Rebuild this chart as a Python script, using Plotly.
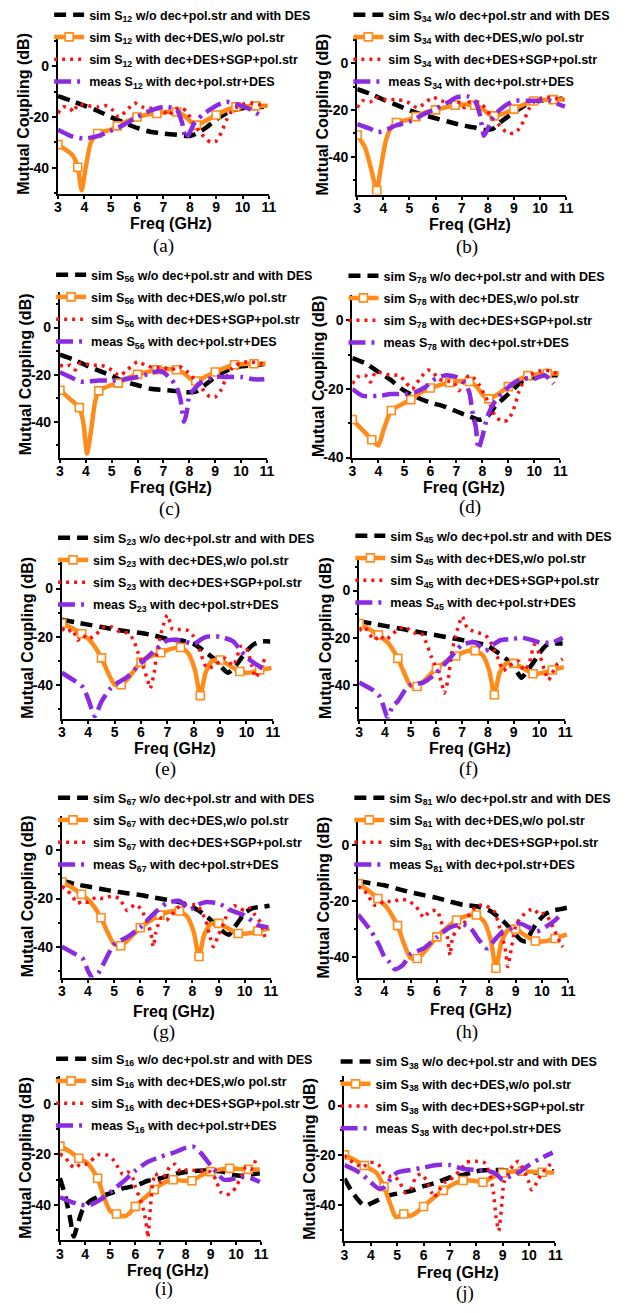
import plotly.graph_objects as go

W, H = 635, 1313

# ---------------------------------------------------------------- data
PANEL_TAGS = ["(a)", "(b)", "(c)", "(d)", "(e)", "(f)", "(g)", "(h)", "(i)", "(j)"]
PORT_PAIRS = ["12", "34", "56", "78", "23", "45", "67", "81", "16", "38"]
X_TICKS = [3, 4, 5, 6, 7, 8, 9, 10, 11]
Y_TICKS = [0, -20, -40]
Y_TICK_TEXT = ["0", "-20", "-40"]
ORANGE_MARKER_FREQS = [3, 3.75, 4.5, 5.25, 6, 6.75, 7.5, 8.25, 9, 9.75, 10.5]
Y_LIMITS = [(-50.2, 12.5), (-56.2, 12.3), (-55.2, 15.2), (-40, 7.5), (-54, 12.8),
            (-54.3, 13.9), (-52.8, 14.4), (-47.4, 9.6), (-54.1, 11), (-54.8, 12)]

# (freq GHz, coupling dB)
a_black = [(3,-11.7),(3.5,-13.5),(4,-15.5),(4.5,-17.5),(5,-20),(5.5,-22.2),(6,-24.3),(6.5,-25.8),(7,-26.5),(7.5,-27),(8,-27.5),(8.3,-26.3),(8.6,-24.3),(9,-21),(9.5,-17.8),(10,-16.5),(10.5,-16),(10.9,-16)]
a_orange = [(3,-30.9),(3.3,-33),(3.55,-35),(3.75,-39.8),(3.9,-49),(4.05,-40),(4.25,-30),(4.5,-26.5),(5,-25),(5.25,-23.5),(5.6,-21.8),(6,-20),(6.4,-19),(6.75,-18.6),(7.1,-18),(7.5,-18),(7.8,-19.5),(8.05,-22),(8.25,-23.2),(8.6,-21.5),(9,-19.2),(9.4,-17.2),(9.75,-16),(10.1,-15.7),(10.5,-15.6),(10.95,-15.5)]
a_red = [(3,-18.5),(3.2,-16),(3.45,-16.5),(3.6,-18),(3.75,-15),(4.1,-15.5),(4.5,-16),(4.8,-15.5),(5.1,-17.5),(5.3,-20),(5.6,-17.5),(5.9,-14.5),(6.2,-16),(6.5,-16.5),(6.8,-16.5),(7.0,-17.5),(7.2,-19.5),(7.4,-17),(7.7,-16.5),(7.9,-18),(8.1,-22),(8.35,-25.5),(8.6,-28.5),(8.8,-30),(9.0,-29.5),(9.2,-26),(9.4,-21),(9.6,-17.5),(9.8,-16),(10.0,-15),(10.3,-14.5),(10.6,-15),(10.9,-15.5)]
a_purple = [(3,-25),(3.5,-27.5),(4,-28.5),(4.5,-27.5),(5,-25.5),(5.5,-23),(6,-20),(6.5,-17.5),(7,-16),(7.5,-17),(7.7,-22),(7.85,-28.5),(8.0,-26),(8.2,-22),(8.5,-19),(9,-15.5),(9.4,-14),(9.8,-15),(10.2,-16.5),(10.7,-19.5)]

b_black = [(3,-11),(3.5,-13),(4,-15.5),(4.5,-17.8),(5,-20),(5.5,-22),(6,-23.5),(6.5,-25),(7,-26.5),(7.5,-27.5),(7.9,-28.5),(8.2,-28),(8.5,-25),(9,-21),(9.5,-17.5),(10,-16),(10.5,-15.5),(10.9,-15)]
b_orange = [(3,-30.7),(3.3,-36),(3.55,-46),(3.75,-54.5),(3.9,-45),(4.1,-33),(4.3,-27.5),(4.5,-25.3),(5,-24),(5.25,-22.8),(5.6,-21),(6,-19.9),(6.4,-18.8),(6.75,-17.9),(7.1,-17.6),(7.5,-17.9),(7.8,-19.5),(8.05,-21.8),(8.25,-22.5),(8.6,-21.5),(9,-19.6),(9.4,-17.5),(9.75,-16.1),(10.1,-15.7),(10.5,-15.5),(10.95,-15.5)]
b_red = [(3,-19),(3.2,-16),(3.5,-16.5),(3.7,-14.5),(4,-15.5),(4.5,-15.5),(4.8,-16),(5,-17),(5.3,-19),(5.6,-17),(5.9,-14.5),(6.2,-16),(6.5,-16.5),(7,-17),(7.1,-19),(7.3,-16.5),(7.6,-16.5),(7.9,-19),(8.2,-24),(8.5,-27),(8.7,-29.5),(9,-30),(9.2,-28),(9.4,-24),(9.6,-19),(9.8,-16),(10,-15),(10.3,-14.5),(10.6,-15),(10.9,-15.5)]
b_purple = [(3,-26),(3.5,-28),(3.8,-29.5),(4.2,-28),(4.5,-26.5),(5,-25),(5.5,-22),(6,-19.5),(6.5,-16.5),(6.8,-14.5),(7.2,-14),(7.5,-16),(7.7,-22),(7.85,-31),(8.0,-28),(8.2,-23),(8.5,-19.5),(9,-16),(9.5,-16),(10,-16),(10.4,-16),(10.7,-17.5),(10.95,-18.5)]

c_black = [(3,-11.5),(3.5,-13.5),(4,-16),(4.5,-18.3),(5,-20.5),(5.5,-23),(6,-24.5),(6.5,-26),(7,-26.5),(7.5,-27),(8,-27.5),(8.3,-27),(8.6,-24.5),(9,-21),(9.5,-18),(10,-16.5),(10.5,-16),(10.9,-15.5)]
c_orange = [(3,-26.6),(3.4,-30.5),(3.75,-34),(3.9,-40),(4.05,-53.5),(4.2,-44),(4.35,-32),(4.5,-26.9),(4.9,-24.8),(5.25,-23.6),(5.6,-21.5),(6,-19.9),(6.4,-18.8),(6.75,-17.9),(7.1,-17.6),(7.5,-17.9),(7.8,-19.5),(8.05,-21.8),(8.25,-22.7),(8.6,-21),(9,-18.9),(9.4,-17),(9.75,-15.8),(10.1,-15.5),(10.5,-15.4),(10.95,-15.3)]
c_red = [(3,-16),(3.2,-16.5),(3.4,-16),(3.6,-18),(3.8,-15),(4.2,-16),(4.6,-16),(5,-18),(5.3,-20.5),(5.6,-18),(6.0,-14.5),(6.3,-16),(6.6,-17),(7,-17),(7.3,-18),(7.6,-16.5),(7.9,-18.5),(8.2,-22),(8.5,-26),(8.8,-29.5),(9,-29.5),(9.2,-27),(9.4,-22),(9.6,-18),(9.8,-16),(10,-15),(10.3,-14.5),(10.6,-15),(10.9,-15.5)]
c_purple = [(3,-19),(3.5,-21.5),(3.8,-23),(4.5,-22.5),(5,-22.5),(5.5,-22),(6,-21),(6.5,-19.5),(6.8,-18.5),(7,-19),(7.3,-22),(7.5,-25),(7.65,-30),(7.8,-40),(7.9,-36),(8.0,-29),(8.2,-26),(8.5,-23),(9,-21),(9.5,-21),(10,-21),(10.5,-22),(10.9,-22)]

d_black = [(3,-11),(3.5,-12.5),(4,-15),(4.5,-17.5),(5,-20.5),(5.5,-22.5),(6,-24),(6.5,-25),(7,-26.5),(7.5,-28),(7.9,-29),(8.2,-28),(8.5,-25),(9,-21.5),(9.5,-18),(10,-16.5),(10.5,-16),(10.9,-16)]
d_orange = [(3,-28.9),(3.4,-32),(3.75,-34.8),(4.0,-36.5),(4.2,-32),(4.5,-26.3),(4.9,-24.5),(5.25,-23.1),(5.6,-21.2),(6,-19.7),(6.4,-18.8),(6.75,-18.1),(7.1,-17.7),(7.5,-17.8),(7.8,-19.5),(8.05,-22),(8.25,-22.9),(8.6,-21.5),(9,-19.3),(9.4,-17.3),(9.75,-16.1),(10.1,-15.7),(10.5,-15.5),(10.95,-15.5)]
d_red = [(3,-18.5),(3.2,-16.5),(3.5,-16),(3.7,-18),(3.9,-15),(4.2,-15.5),(4.5,-16),(4.8,-16),(5.0,-17.5),(5.3,-20),(5.6,-17),(5.9,-14.5),(6.1,-15),(6.3,-17),(6.5,-17.5),(6.9,-18),(7.1,-20.5),(7.3,-17.5),(7.5,-16),(7.7,-17),(7.9,-19),(8.1,-22),(8.3,-24.5),(8.5,-28),(8.8,-29.5),(9.0,-29),(9.2,-26),(9.4,-21),(9.6,-17.5),(9.8,-16),(10.1,-15),(10.4,-14.5),(10.7,-15),(10.9,-15.5)]
d_purple = [(3,-20),(3.4,-22),(4,-22),(4.5,-21.5),(5,-21.5),(5.4,-21),(5.8,-19.5),(6.2,-17),(6.6,-16),(7,-16.5),(7.3,-18),(7.5,-21),(7.65,-28),(7.75,-31),(7.85,-37.5),(8.0,-34),(8.2,-28),(8.5,-23.5),(9,-19.5),(9.5,-17),(10,-17),(10.4,-16),(10.75,-18.5)]

e_black = [(3,-13),(3.5,-14),(4,-15),(4.5,-16),(5,-17),(5.5,-17.8),(6,-18.5),(6.5,-19.5),(7,-21),(7.5,-21.5),(8,-23),(8.4,-26),(8.8,-29.5),(9,-32),(9.3,-35),(9.6,-32),(9.8,-29),(10,-26),(10.3,-23),(10.6,-22),(10.9,-22)]
e_orange = [(3,-14.4),(3.4,-16.5),(3.75,-18.8),(4.1,-22),(4.5,-28.8),(4.75,-35),(5.0,-40),(5.25,-40),(5.5,-37.5),(6,-30.5),(6.4,-28),(6.75,-26.7),(7.1,-25.2),(7.5,-24.5),(7.8,-27),(8.05,-34),(8.25,-44.5),(8.45,-35),(8.7,-30),(9,-29.7),(9.3,-31.5),(9.75,-34.5),(10.1,-35),(10.5,-33.8),(10.95,-33)]
e_red = [(3,-16.5),(3.2,-18),(3.4,-17),(3.6,-21.5),(3.8,-19.5),(4.0,-21),(4.3,-19),(4.6,-16),(4.9,-16),(5.2,-18),(5.5,-18.5),(5.7,-21),(5.9,-27),(6.1,-33),(6.25,-38),(6.35,-41.5),(6.5,-35),(6.6,-27),(6.8,-17),(7.0,-11),(7.2,-17),(7.5,-17),(7.8,-17.5),(8.0,-20),(8.2,-25),(8.5,-33),(8.8,-32),(9.0,-30),(9.2,-29),(9.5,-32),(9.8,-24),(10.0,-25),(10.2,-32),(10.35,-37),(10.5,-34),(10.7,-29)]
e_purple = [(3,-35),(3.5,-38.5),(3.8,-41),(4.0,-46),(4.25,-53),(4.5,-47),(4.8,-42),(5.0,-40),(5.5,-36.5),(6.0,-31),(6.5,-26),(7.0,-21.5),(7.5,-21.5),(8.0,-23),(8.3,-21),(8.5,-20),(9,-20),(9.5,-22),(9.8,-26),(10.0,-28.5),(10.3,-31),(10.6,-33)]

f_black = [(3,-13),(3.5,-14),(4,-15),(4.5,-16),(5,-17),(5.5,-18),(6,-19),(6.5,-20),(7,-21),(7.5,-22),(8,-23.5),(8.4,-26.5),(8.8,-30),(9.1,-34),(9.3,-37),(9.6,-33),(9.8,-30),(10,-26.5),(10.3,-23),(10.6,-22.5),(10.9,-22.5)]
f_orange = [(3,-14),(3.4,-16.5),(3.75,-18.9),(4.1,-22),(4.5,-28.8),(4.75,-35),(5.0,-40.5),(5.25,-40.7),(5.5,-38.5),(6,-33),(6.4,-30),(6.75,-27.8),(7.1,-26),(7.5,-25.5),(7.8,-27.5),(8.05,-34),(8.25,-44.2),(8.45,-35),(8.7,-31),(9,-30.9),(9.3,-32.5),(9.75,-35.3),(10.1,-35),(10.5,-33.7),(10.95,-32.5)]
f_red = [(3,-17),(3.2,-15.5),(3.4,-18.5),(3.6,-21),(3.8,-19),(4.0,-21),(4.2,-19.5),(4.5,-16.5),(4.8,-15.5),(5.1,-18),(5.4,-18),(5.6,-22),(5.8,-28),(6.0,-33),(6.2,-39),(6.3,-43.5),(6.45,-38),(6.6,-26),(6.8,-17),(7.0,-11),(7.2,-16),(7.5,-17.5),(7.8,-18.5),(8.0,-20),(8.2,-24),(8.4,-29),(8.6,-34),(8.8,-32),(9.0,-31),(9.2,-30),(9.4,-34),(9.6,-31),(9.8,-23),(10.0,-27),(10.2,-34),(10.35,-38),(10.5,-35),(10.7,-31),(10.9,-29)]
f_purple = [(3,-39),(3.5,-42),(3.8,-45),(4.0,-51),(4.1,-54),(4.3,-49),(4.5,-47),(4.8,-42),(5.0,-40),(5.5,-39),(6.0,-35),(6.5,-29),(7.0,-23),(7.5,-22),(7.9,-25.5),(8.2,-23),(8.5,-21),(9,-20.5),(9.3,-20),(9.7,-21),(10,-22),(10.5,-22),(10.9,-20)]

g_black = [(3,-12.5),(3.5,-14),(4,-15),(4.5,-16),(5,-17),(5.5,-17.8),(6,-18.5),(6.5,-19.5),(7,-20.5),(7.5,-21.5),(8,-23.5),(8.5,-27),(8.9,-31),(9.2,-34),(9.4,-35),(9.6,-32),(9.8,-29),(10,-26),(10.3,-24),(10.6,-23.5),(10.95,-23)]
g_orange = [(3,-13.1),(3.4,-15.5),(3.75,-18.2),(4.1,-21.5),(4.5,-28),(4.75,-34),(5.0,-39),(5.25,-39.6),(5.5,-37.5),(6,-32.1),(6.4,-29),(6.75,-26.9),(7.1,-25.5),(7.5,-25.2),(7.8,-27.5),(8.05,-34),(8.25,-44.1),(8.45,-35),(8.7,-30.5),(9,-30.3),(9.3,-32),(9.75,-34.5),(10.1,-34.5),(10.5,-33.5),(10.95,-32.5)]
g_red = [(3,-15),(3.2,-16.5),(3.4,-19),(3.6,-22),(3.8,-21),(4.0,-21.5),(4.3,-19.5),(4.6,-20),(4.9,-19),(5.2,-20),(5.5,-25),(5.8,-22.5),(6.0,-24),(6.2,-28),(6.4,-34),(6.5,-40),(6.6,-34),(6.8,-28),(7.0,-29),(7.2,-27),(7.4,-24),(7.7,-22.5),(8.0,-22.5),(8.2,-23),(8.5,-29),(8.7,-37),(8.8,-40),(9.0,-35),(9.2,-30),(9.4,-25),(9.6,-23),(9.8,-24),(10.0,-25),(10.2,-24),(10.4,-27),(10.6,-30),(10.8,-37)]
g_purple = [(3,-40),(3.5,-43),(3.8,-45),(4.0,-50),(4.2,-53.5),(4.4,-51),(4.6,-47),(5.0,-39),(5.5,-36),(6.0,-32),(6.5,-26.5),(7,-22),(7.5,-21),(7.9,-24.5),(8.2,-22.5),(8.5,-21.5),(9,-22),(9.5,-25),(10,-27),(10.5,-31),(10.9,-32)]

h_black = [(3,-13),(3.5,-13.8),(4,-14.5),(4.5,-15.8),(5,-17),(5.5,-18),(6,-19),(6.5,-20.3),(7,-21.5),(7.5,-22),(8,-23.5),(8.5,-27),(8.9,-31),(9.2,-34),(9.4,-34.5),(9.6,-31),(9.8,-28),(10.1,-25),(10.4,-23.5),(10.7,-23),(10.95,-22.5)]
h_orange = [(3,-13.9),(3.4,-16.5),(3.75,-19.2),(4.1,-22.5),(4.5,-28.9),(4.75,-35.5),(5.0,-40.5),(5.25,-40.6),(5.5,-38.5),(6,-32.9),(6.4,-29.5),(6.75,-26.9),(7.1,-25.5),(7.5,-25.1),(7.8,-27.5),(8.05,-34),(8.25,-44.1),(8.45,-35),(8.7,-30.5),(9,-30.1),(9.3,-32),(9.75,-34.4),(10.1,-34.5),(10.5,-33.5),(10.95,-32)]
h_red = [(3,-15),(3.2,-16),(3.4,-18.5),(3.6,-21.5),(3.8,-21.5),(4.0,-20),(4.3,-20.5),(4.6,-19.5),(4.9,-20),(5.2,-22),(5.5,-26),(5.7,-24),(6.0,-23.5),(6.2,-28.5),(6.4,-33),(6.5,-39.5),(6.6,-33),(6.8,-30),(7.0,-28.5),(7.2,-25.5),(7.5,-22),(7.8,-21.5),(8.0,-22.5),(8.2,-24),(8.4,-30),(8.6,-37),(8.7,-43.5),(8.8,-39),(9.0,-29),(9.2,-26),(9.5,-23.5),(9.7,-23),(9.9,-25),(10.1,-24.5),(10.3,-27),(10.5,-31),(10.7,-35),(10.8,-36.5)]
h_purple = [(3,-25),(3.5,-31),(3.8,-36),(4.0,-40),(4.2,-42),(4.4,-44.5),(4.7,-43),(5.0,-39),(5.5,-37),(6.0,-33),(6.5,-29.5),(7.0,-28.5),(7.3,-30),(7.6,-34),(7.9,-37),(8.2,-34),(8.5,-31),(8.8,-30),(9.1,-28),(9.5,-29.5),(9.8,-31),(10.2,-29),(10.5,-27),(10.65,-25.5)]

i_black = [(3,-29.5),(3.2,-36),(3.4,-45),(3.55,-52.5),(3.7,-48),(3.9,-42),(4.2,-38.5),(4.5,-37),(5.0,-35.5),(5.5,-33.5),(6.0,-32.5),(6.5,-30.5),(7.0,-29.5),(7.5,-28),(8.0,-27),(8.5,-26.5),(9.0,-26.5),(9.5,-27),(9.8,-28),(10.2,-28.5),(10.6,-28),(10.95,-27.5)]
i_orange = [(3,-16.8),(3.4,-19),(3.75,-21.6),(4.1,-23.5),(4.5,-29.5),(4.75,-37),(5.0,-42.5),(5.25,-43.6),(5.55,-44.5),(5.75,-43.5),(6,-40.6),(6.4,-37),(6.75,-34),(7.1,-31.5),(7.5,-30.1),(7.9,-30.5),(8.25,-30.5),(8.6,-28.5),(9,-26.9),(9.4,-26),(9.75,-25.6),(10.1,-25.8),(10.5,-26),(10.95,-26)]
i_red = [(3,-20),(3.2,-21),(3.4,-24),(3.6,-25.5),(3.8,-24),(4.0,-24),(4.2,-23),(4.4,-21),(4.6,-20),(4.9,-20.5),(5.1,-22),(5.3,-25),(5.5,-28),(5.7,-27),(5.9,-29.5),(6.0,-33),(6.2,-38),(6.35,-43),(6.45,-49),(6.5,-53),(6.6,-41),(6.7,-31),(6.8,-27.5),(7.0,-31),(7.2,-28),(7.4,-24.5),(7.6,-24),(7.8,-27),(8.1,-26),(8.4,-26.5),(8.7,-26.5),(9.0,-27),(9.2,-30),(9.4,-35),(9.6,-36),(9.8,-35.5),(10.0,-33),(10.2,-29),(10.4,-25),(10.6,-26),(10.8,-22)]
i_purple = [(3,-37),(3.5,-39),(3.8,-40),(4.2,-40),(4.6,-38),(5.0,-35),(5.5,-31),(6.0,-26.5),(6.5,-23),(7.0,-21),(7.5,-19.5),(8.0,-17.5),(8.3,-17),(8.6,-19.5),(9.0,-24.5),(9.3,-28),(9.5,-30),(9.8,-30),(10.2,-29),(10.6,-29.5),(10.95,-31)]

j_black = [(3,-29.5),(3.3,-35),(3.6,-39),(3.8,-40.5),(4.0,-39.5),(4.3,-38),(4.6,-36.5),(5.0,-35.5),(5.5,-34.5),(6.0,-32.5),(6.5,-31),(7.0,-29),(7.5,-28),(8.0,-26.5),(8.5,-26),(9.0,-26),(9.5,-26.5),(10.0,-27),(10.5,-27),(10.95,-26.5)]
j_orange = [(3,-19.9),(3.4,-22),(3.75,-24.2),(4.2,-27),(4.5,-32.7),(4.75,-40),(4.95,-45),(5.25,-43.7),(5.5,-44.5),(5.75,-43),(6,-40.7),(6.4,-37),(6.75,-34.2),(7.1,-31.8),(7.5,-30.2),(7.9,-30.3),(8.25,-30.9),(8.6,-29),(9,-27.2),(9.4,-26.6),(9.75,-26.5),(10.1,-26.7),(10.5,-26.9),(10.95,-27)]
j_red = [(3,-20),(3.2,-22),(3.5,-24),(3.7,-25),(3.9,-23),(4.1,-23),(4.3,-24),(4.5,-27.5),(4.7,-28.5),(4.9,-28.5),(5.1,-31),(5.3,-35),(5.5,-34),(5.7,-29),(5.9,-27.5),(6.1,-30),(6.3,-35),(6.4,-37),(6.6,-34),(6.8,-31),(7.0,-30),(7.2,-28),(7.4,-26),(7.6,-23),(7.8,-22.5),(8.0,-22.5),(8.3,-23),(8.5,-27),(8.65,-35),(8.75,-45),(8.85,-50.5),(8.95,-42),(9.05,-31),(9.2,-28),(9.4,-24),(9.6,-22.5),(9.8,-26),(10.0,-31),(10.1,-34),(10.3,-31),(10.5,-27),(10.7,-25),(10.85,-23)]
j_purple = [(3,-24),(3.4,-26),(3.7,-28),(4.0,-31),(4.3,-33.5),(4.5,-33),(4.8,-29),(5.0,-27),(5.5,-26),(6.0,-25),(6.5,-24),(7.0,-24),(7.5,-25.5),(8.0,-26),(8.5,-26.5),(8.8,-28),(9.0,-30),(9.2,-29),(9.6,-27),(10.0,-24),(10.4,-21.5),(10.9,-19)]

PANEL_SERIES = [
    (a_black, a_orange, a_red, a_purple), (b_black, b_orange, b_red, b_purple),
    (c_black, c_orange, c_red, c_purple), (d_black, d_orange, d_red, d_purple),
    (e_black, e_orange, e_red, e_purple), (f_black, f_orange, f_red, f_purple),
    (g_black, g_orange, g_red, g_purple), (h_black, h_orange, h_red, h_purple),
    (i_black, i_orange, i_red, i_purple), (j_black, j_orange, j_red, j_purple),
]

LEGEND_NAMES = [
    "sim S<sub>{p}</sub> w/o dec+pol.str and with DES",
    "sim S<sub>{p}</sub> with dec+DES,w/o pol.str",
    "sim S<sub>{p}</sub> with dec+DES+SGP+pol.str",
    "meas S<sub>{p}</sub> with dec+pol.str+DES",
]

# ---------------------------------------------------------------- layout
# plot box per panel in page pixels: left, right, top, bottom
BOXES = [(55, 270, 33, 193), (360, 573, 33, 194), (57, 268, 292, 459), (355, 567, 295, 459),
         (59, 274, 560, 722), (362, 572, 560, 722), (59, 272, 820, 983), (361, 575, 822, 983),
         (57, 262, 1082, 1248), (347, 562, 1082, 1249)]
LEGEND_FIRST_ROW = [13, 13, 275, 276, 540, 538, 802, 802, 1065, 1068]
XTITLE_Y = [223, 224, 489, 489, 752, 752, 1017, 1015, 1278, 1280]
TAG_POS = [(163, 246), (472, 247), (169, 511), (475, 509), (165, 773), (473, 773),
           (163, 1038), (472, 1038), (163, 1297), (470, 1301)]

SANS = "Liberation Sans, Arial, sans-serif"
SERIF = "Liberation Serif, Times New Roman, serif"

ORANGE = "#FF8C1A"
STYLES = [
    dict(color="black", width=4.5, dash="12px,7px"),
    dict(color=ORANGE, width=4.5, dash="solid"),
    dict(color="#FF1010", width=3.5, dash="3px,5px"),
    dict(color="#8A2BE2", width=4.5, dash="17px,6px,3px,6px"),
]

fig = go.Figure()

for k, series in enumerate(PANEL_SERIES):
    n = "" if k == 0 else str(k + 1)
    xa, ya, lg = "x" + n, "y" + n, "legend" + n
    for s, pts in enumerate(series):
        fx = [p[0] for p in pts]
        fy = [p[1] for p in pts]
        kw = dict(x=fx, y=fy, xaxis=xa, yaxis=ya, legend=lg, legendgroup=f"{k}-{s}",
                  name=LEGEND_NAMES[s].format(p=PORT_PAIRS[k]),
                  line=dict(shape="spline", smoothing=0.6, **STYLES[s]))
        if s == 1:
            on = [f in ORANGE_MARKER_FREQS for f in fx]
            kw["mode"] = "lines+markers"
            kw["marker"] = dict(symbol="square", size=8,
                                color=["white" if o else "rgba(0,0,0,0)" for o in on],
                                line=dict(width=1.6,
                                          color=[ORANGE if o else "rgba(0,0,0,0)" for o in on]))
        else:
            kw["mode"] = "lines"
        fig.add_trace(go.Scatter(**kw))

layout = dict(width=W, height=H, margin=dict(l=0, r=0, t=0, b=0),
              paper_bgcolor="white", plot_bgcolor="white", annotations=[])

tick_font = dict(family=SANS, size=14, color="black", weight="bold")
title_font = dict(family=SANS, size=16, color="black", weight="bold")
for k, (l, r, t, b) in enumerate(BOXES):
    n = "" if k == 0 else str(k + 1)
    layout["xaxis" + n] = dict(
        domain=[l / W, r / W], anchor="y" + n, range=[3, 11],
        tickvals=X_TICKS, ticktext=[str(v) for v in X_TICKS], tickangle=0,
        showline=True, linecolor="black", linewidth=2, mirror=False,
        ticks="outside", ticklen=3, tickwidth=1.5, tickcolor="black",
        ticklabelstandoff=-3,
        showgrid=False, zeroline=False, tickfont=tick_font,
    )
    lo, hi = Y_LIMITS[k]
    layout["yaxis" + n] = dict(
        domain=[1 - b / H, 1 - t / H], anchor="x" + n, range=[lo, hi],
        tickvals=Y_TICKS, ticktext=Y_TICK_TEXT,
        showline=True, linecolor="black", linewidth=2,
        ticks="outside", ticklen=4, tickwidth=1.5, tickcolor="black",
        minor=dict(dtick=10, ticks="outside", ticklen=2, tickcolor="black"),
        showgrid=False, zeroline=False, tickfont=tick_font,
    )
    layout["legend" + n] = dict(
        x=(l - 9) / W, y=1 - (LEGEND_FIRST_ROW[k] - 15) / H, xanchor="left", yanchor="top",
        bgcolor="rgba(0,0,0,0)", borderwidth=0, tracegroupgap=3,
        font=dict(family=SANS, size=12.5, color="black", weight="bold"),
    )
    # axis titles
    layout["annotations"].append(dict(
        text="Freq (GHz)", x=((l + r) / 2 + 8) / W, y=1 - XTITLE_Y[k] / H,
        xref="paper", yref="paper", showarrow=False, xanchor="center", yanchor="middle",
        font=title_font))
    layout["annotations"].append(dict(
        text="Mutual Coupling (dB)", x=(l - 35) / W, y=1 - ((t + b) / 2) / H,
        xref="paper", yref="paper", showarrow=False, xanchor="center", yanchor="middle",
        textangle=-90, font=title_font))
    tx, ty = TAG_POS[k]
    layout["annotations"].append(dict(
        text=PANEL_TAGS[k], x=tx / W, y=1 - ty / H, xref="paper", yref="paper",
        showarrow=False, xanchor="center", yanchor="middle",
        font=dict(family=SERIF, size=19, color="black")))

fig.update_layout(**layout)
fig.write_html("out.html")
